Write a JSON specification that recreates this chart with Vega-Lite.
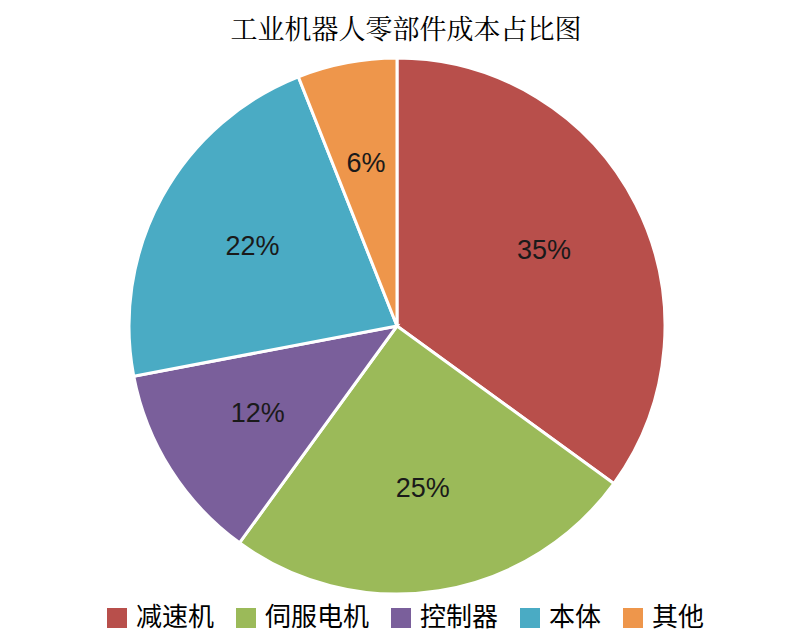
{
  "$schema": "https://vega.github.io/schema/vega-lite/v6.json",
  "width": 792,
  "height": 642,
  "autosize": {"type": "none"},
  "padding": {"left": 1, "top": 5, "right": 0, "bottom": 0},
  "background": "white",
  "title": {
    "text": "工业机器人零部件成本占比图",
    "font": "Noto Serif CJK SC, Noto Sans CJK SC",
    "fontSize": 27,
    "fontWeight": "normal",
    "color": "#000000",
    "anchor": "middle",
    "baseline": "middle",
    "dx": 9,
    "offset": -53
  },
  "data": {
    "values": [
      {"part": "减速机", "share": 0.35, "order": 1},
      {"part": "伺服电机", "share": 0.25, "order": 2},
      {"part": "控制器", "share": 0.12, "order": 3},
      {"part": "本体", "share": 0.22, "order": 4},
      {"part": "其他", "share": 0.06, "order": 5}
    ]
  },
  "encoding": {
    "theta": {"field": "share", "type": "quantitative", "stack": true},
    "order": {"field": "order", "type": "quantitative"}
  },
  "layer": [
    {
      "mark": {"type": "arc", "outerRadius": 268, "stroke": "white", "strokeWidth": 3},
      "encoding": {
        "color": {
          "field": "part",
          "type": "nominal",
          "sort": ["减速机", "伺服电机", "控制器", "本体", "其他"],
          "scale": {
            "domain": ["减速机", "伺服电机", "控制器", "本体", "其他"],
            "range": ["#B84F4B", "#9BBA59", "#7A5F9B", "#4AABC4", "#EE964B"]
          },
          "legend": {
            "title": null,
            "orient": "none",
            "direction": "horizontal",
            "legendX": 103,
            "legendY": 600,
            "symbolType": "square",
            "symbolSize": 400,
            "symbolStrokeWidth": 0,
            "labelFont": "Noto Sans CJK SC",
            "labelFontSize": 26,
            "labelColor": "#000000",
            "labelOffset": 6,
            "columnPadding": 18,
            "labelLimit": 200
          }
        }
      }
    },
    {
      "mark": {"type": "text", "radius": 165, "font": "Liberation Sans", "fontSize": 27, "color": "#1a1a1a"},
      "encoding": {
        "text": {"field": "share", "type": "quantitative", "format": ".0%"},
        "detail": {"field": "part"}
      }
    }
  ]
}
